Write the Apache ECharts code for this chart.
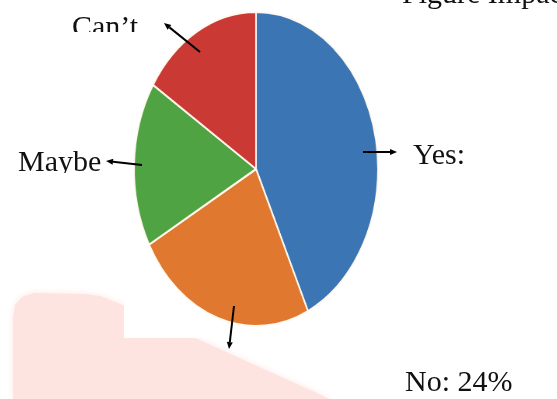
<!DOCTYPE html>
<html>
<head>
<meta charset="utf-8">
<script src="https://cdn.jsdelivr.net/npm/echarts@6/dist/echarts.min.js"></script>
<style>
  html, body { margin: 0; padding: 0; background: #ffffff; }
  #stage { position: relative; width: 557px; height: 399px; overflow: hidden; }
  #bg, #fg { position: absolute; left: 0; top: 0; width: 557px; height: 399px; }
  #pie { position: absolute; left: 96px; top: 9px; width: 320px; height: 320px;
         transform: scaleX(0.777); transform-origin: 50% 50%; filter: blur(0.5px); }
</style>
</head>
<body>
<div id="stage">
  <div id="bg"></div>
  <div id="pie"></div>
  <div id="fg"></div>
</div>
<script>
// Survey answers, in clockwise order from 12 o'clock
const categories = ['Yes', 'No', 'Maybe', 'Can\u2019t'];
const shares = [43, 24, 17, 16];
const sliceColors = ['#3b75b3', '#e0782f', '#4fa343', '#cb3934'];
const calloutTexts = ['Yes:', 'No: 24%', 'Maybe', 'Can\u2019t'];

const FONT = '"Liberation Serif", "Times New Roman", serif';

// Background: faint pink panel partly hidden behind a white box
const bg = echarts.init(document.getElementById('bg'));
bg.setOption({
  backgroundColor: '#ffffff',
  graphic: [
    {
      type: 'polygon',
      shape: {
        points: [[13, 399], [13, 318], [15, 305], [22, 297], [34, 293], [84, 294],
                 [100, 296], [118, 303], [140, 313], [330, 399]]
      },
      style: { fill: '#fde4e1', shadowBlur: 6, shadowColor: 'rgba(253,228,225,0.9)' }
    },
    { type: 'rect', shape: { x: 124, y: 0, width: 433, height: 338 }, style: { fill: '#ffffff' } }
  ]
});

// The pie itself (stretched vertically into an ellipse by the container)
const pie = echarts.init(document.getElementById('pie'));
pie.setOption({
  animation: false,
  series: [{
    type: 'pie',
    center: ['50%', '50%'],
    radius: 157,
    startAngle: 90,
    clockwise: true,
    label: { show: false },
    labelLine: { show: false },
    itemStyle: { borderColor: '#fff9ef', borderWidth: 2 },
    emphasis: { disabled: true },
    data: categories.map((name, i) => ({
      name: name, value: shares[i], itemStyle: { color: sliceColors[i] }
    }))
  }]
});

// Callout arrows and texts
function arrow(x1, y1, x2, y2) {
  const ang = Math.atan2(y2 - y1, x2 - x1);
  const len = 7, half = 3;
  const bx = x2 - len * Math.cos(ang), by = y2 - len * Math.sin(ang);
  const px = -Math.sin(ang) * half, py = Math.cos(ang) * half;
  return [
    { type: 'line', shape: { x1: x1, y1: y1, x2: bx, y2: by }, style: { stroke: '#000', lineWidth: 2 } },
    { type: 'polygon', shape: { points: [[x2, y2], [bx + px, by + py], [bx - px, by - py]] }, style: { fill: '#000' } }
  ];
}
function label(text, x, y) {
  return { type: 'text', x: x, y: y,
    style: { text: text, font: '30px ' + FONT, fill: '#111', verticalAlign: 'middle', align: 'left' } };
}

const fg = echarts.init(document.getElementById('fg'));
fg.setOption({
  graphic: [
    label('Figure Impact', 402, -5),
    label(calloutTexts[3], 72, 28),
    { type: 'rect', shape: { x: 60, y: 32, width: 92, height: 14 }, style: { fill: '#ffffff' } },
    label(calloutTexts[2], 18, 163),
    { type: 'rect', shape: { x: 10, y: 173, width: 92, height: 14 }, style: { fill: '#ffffff' } },
    label(calloutTexts[0], 413, 156),
    label(calloutTexts[1], 405, 383)
  ].concat(
    arrow(200, 52, 164, 23),
    arrow(142, 165, 106, 161),
    arrow(363, 152, 397, 152),
    arrow(234, 306, 229, 349)
  )
});
</script>
</body>
</html>
